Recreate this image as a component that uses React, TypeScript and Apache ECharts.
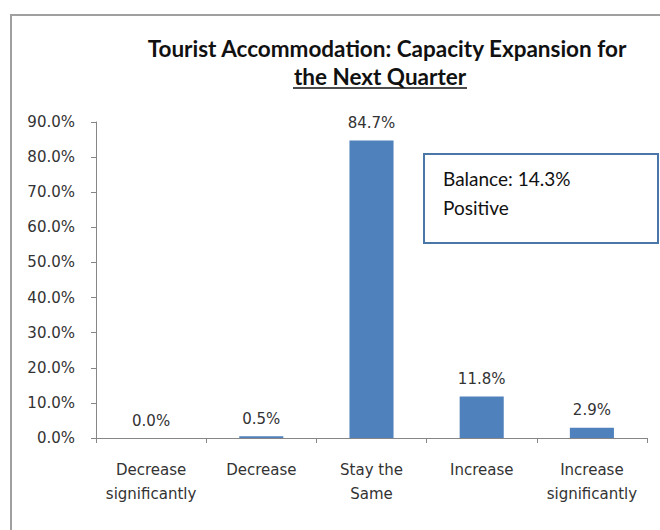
import React, { useEffect, useRef } from "react";
import * as echarts from "echarts";

const categories = ["Decrease\nsignificantly", "Decrease", "Stay the\nSame", "Increase", "Increase\nsignificantly"];
const values = [0.0, 0.5, 84.7, 11.8, 2.9];
const titleLines = ["Tourist Accommodation: Capacity Expansion for", "the Next Quarter"];
const boxLines = ["Balance: 14.3%", "Positive"];

export default function App() {
  const ref = useRef<HTMLDivElement>(null);
  useEffect(() => {
    const chart = echarts.init(ref.current!, null, { renderer: "svg" });
    chart.setOption({
      animation: false,
      backgroundColor: "#fff",
      grid: { left: 96, right: 13, top: 122, bottom: 92 },
      xAxis: {
        type: "category",
        data: categories,
        axisLine: { lineStyle: { color: "#868686", width: 1 } },
        axisTick: { show: true, length: 5, lineStyle: { color: "#868686" }, inside: false },
        axisLabel: { color: "#333", fontFamily: "DejaVu Sans", fontSize: 15, lineHeight: 24, margin: 20, interval: 0 },
      },
      yAxis: {
        type: "value",
        min: 0,
        max: 90,
        interval: 10,
        axisLine: { show: true, lineStyle: { color: "#868686", width: 1 } },
        axisTick: { show: true, length: 5, lineStyle: { color: "#868686" } },
        splitLine: { show: false },
        axisLabel: {
          color: "#333",
          fontFamily: "DejaVu Sans",
          fontSize: 15,
          margin: 21,
          formatter: (v: number) => v.toFixed(1) + "%",
        },
      },
      series: [
        {
          type: "bar",
          data: values,
          barWidth: "40%",
          itemStyle: { color: "#4f81bd" },
          label: {
            show: true,
            position: "top",
            distance: 10,
            color: "#333",
            fontFamily: "DejaVu Sans",
            fontSize: 15,
            formatter: (p: any) => p.value.toFixed(1) + "%",
          },
        },
      ],
      graphic: [
        {
          type: "rect",
          shape: { x: 11, y: 15, width: 720, height: 600 },
          style: { fill: "none", stroke: "#a0a0a0", lineWidth: 2 },
          silent: true,
        },
        {
          type: "text",
          x: 387,
          y: 48,
          style: {
            text: titleLines[0],
            fontFamily: "Lato",
            fontWeight: "bold",
            fontSize: 22.5,
            fill: "#111",
            align: "center",
            verticalAlign: "middle",
          },
        },
        {
          type: "text",
          x: 380,
          y: 76,
          style: {
            text: titleLines[1],
            fontFamily: "Lato",
            fontWeight: "bold",
            fontSize: 22.5,
            fill: "#111",
            align: "center",
            verticalAlign: "middle",
          },
        },
        {
          type: "line",
          shape: { x1: 293, y1: 88, x2: 467, y2: 88 },
          style: { stroke: "#111", lineWidth: 1.5 },
        },
        {
          type: "rect",
          shape: { x: 424, y: 154, width: 234, height: 89 },
          style: { fill: "#fff", stroke: "#4a76a8", lineWidth: 2 },
        },
        {
          type: "text",
          x: 443,
          y: 178,
          style: { text: boxLines[0], fontFamily: "Lato", fontSize: 19, fill: "#111", verticalAlign: "middle" },
        },
        {
          type: "text",
          x: 443,
          y: 207,
          style: { text: boxLines[1], fontFamily: "Lato", fontSize: 19, fill: "#111", verticalAlign: "middle" },
        },
      ],
    });
    return () => chart.dispose();
  }, []);
  return <div ref={ref} style={{ position: "fixed", left: 0, top: 0, width: 660, height: 530 }} />;
}
